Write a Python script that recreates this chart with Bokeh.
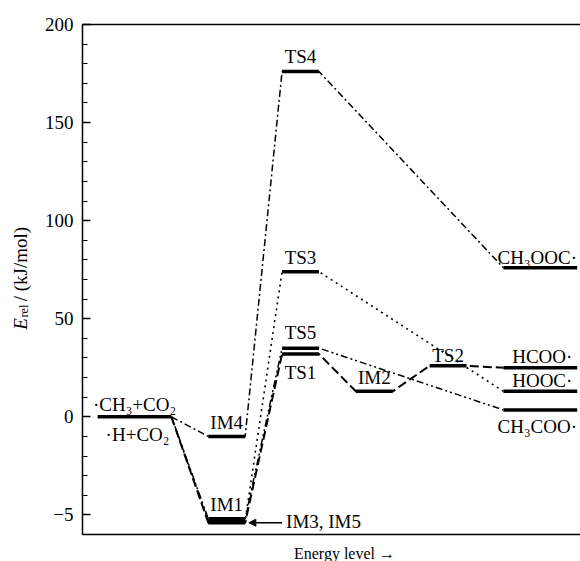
import math
from bokeh.plotting import figure
from bokeh.layouts import row, column
from bokeh.models import (ColumnDataSource, Range1d, LinearAxis, FixedTicker,
                          CustomJSTickFormatter, CustomJSTransform, Arrow, NormalHead)
from bokeh.transform import transform
from bokeh.core.properties import value
from bokeh.embed import file_html
from bokeh.resources import INLINE

# ---------------- data ----------------
species = ["R", "IM4", "IM1", "IM3", "IM5", "TS1", "TS5", "TS3", "TS4",
           "IM2", "TS2", "HCOO", "HOOC", "CH3COO", "CH3OOC"]
stage = [0, 1, 1, 1, 1, 2, 2, 2, 2, 3, 4, 5, 5, 5, 5]
energy = [0.0, -1.0, -5.4, -5.3, -5.2, 32.0, 35.0, 74.0, 176.0,
          13.0, 26.0, 25.0, 13.0, 3.5, 76.0]

path_im4 = ["R", "IM4", "TS4", "CH3OOC"]
path_im1 = ["R", "IM1", "TS1", "IM2", "TS2", "HCOO"]
path_im3 = ["R", "IM3", "TS3", "HOOC"]
path_im5 = ["R", "IM5", "TS5", "CH3COO"]

label_text = ["·CH₃+CO₂", "·H+CO₂", "IM4", "IM1", "TS4", "TS3", "TS5", "TS1",
              "IM2", "TS2", "CH₃OOC·", "HCOO·", "HOOC·", "CH₃COO·"]
label_of = ["R", "R", "IM4", "IM1", "TS4", "TS3", "TS5", "TS1",
            "IM2", "TS2", "CH3OOC", "HCOO", "HOOC", "CH3COO"]

y_ticks = [-5, 0, 50, 100, 150, 200]
callout_text = "IM3, IM5"
x_title = "Energy level →"

# ---------------- layout / style ----------------
stage_left = [0, 3, 5, 7, 9, 11]
stage_right = [2, 4, 6, 8, 10, 13]
label_dy = [-6, 24, -8, -12, -9, -8, -10, 24, -8, -4, -4, -5, -5, 23]  # px from level
label_dx = [0, 3, 0, 0, 0, 0, 0, 0, 0, 0, -3, 2, 2, -3]
BASE_FIX = -6
FONT = "Liberation Serif"
FS = "19px"
STYLE = "normal"


def axis_pos(e):
    # broken axis: 50 kJ/mol per unit above 0, 5 kJ/mol per unit below 0
    return e / 50.0 if e >= 0 else e / 5.0


piecewise = CustomJSTransform(v_func="""
const out = new Float64Array(xs.length);
for (let i = 0; i < xs.length; i++) {
  const e = xs[i];
  out[i] = e >= 0 ? e / 50.0 : e / 5.0;
}
return out;
""")

idx = {s: i for i, s in enumerate(species)}
left = [stage_left[s] for s in stage]
right = [stage_right[s] for s in stage]

p = figure(width=545, height=538, output_backend="svg", toolbar_location=None,
           x_range=Range1d(-0.41, 13.09), y_range=Range1d(-1.2, 4.0),
           min_border_left=47, min_border_top=24, min_border_right=0, min_border_bottom=4)
p.outline_line_color = None
p.xgrid.visible = False
p.ygrid.visible = False

# y axis
ya = p.yaxis[0]
ya.ticker = FixedTicker(ticks=[axis_pos(v) for v in y_ticks],
                        minor_ticks=[i * 0.2 for i in range(-5, 21)])
ya.formatter = CustomJSTickFormatter(code="""
const v = Math.round(tick < 0 ? tick * 5 : tick * 50);
return v < 0 ? "\u2212" + Math.abs(v) : String(v);
""")
ya.major_tick_in = 8
ya.major_tick_out = 0
ya.minor_tick_in = 5
ya.minor_tick_out = 0
ya.major_label_standoff = 9
ya.major_label_text_font = FONT
ya.major_label_text_font_size = FS
ya.major_label_text_font_style = STYLE
ya.major_label_text_color = "black"
ya.axis_line_width = 1.5
ya.major_tick_line_width = 1.5
ya.minor_tick_line_width = 1.2

# bottom axis (line only)
xa = p.xaxis[0]
xa.ticker = FixedTicker(ticks=[])
xa.major_tick_in = 0
xa.major_tick_out = 0
xa.minor_tick_in = 0
xa.minor_tick_out = 0
xa.major_label_standoff = 0
xa.axis_line_width = 1.5
xa.major_label_text_font_size = "0px"

# top axis (line only)
ta = LinearAxis(ticker=FixedTicker(ticks=[]), major_tick_in=0, major_tick_out=0,
                minor_tick_in=0, minor_tick_out=0, axis_line_width=1.5,
                major_label_standoff=0, major_label_text_font_size="0px")
p.add_layout(ta, "above")


# connectors
def path_xy(path):
    xs, es = [], []
    for k, name in enumerate(path):
        i = idx[name]
        if k > 0:
            xs.append(left[i]); es.append(energy[i])
        if k < len(path) - 1:
            xs.append(right[i]); es.append(energy[i])
    return ColumnDataSource(dict(x=xs, e=es))


p.line(x="x", y=transform("e", piecewise), source=path_xy(path_im3),
       line_color="black", line_width=1.6, line_dash="2 4")
p.line(x="x", y=transform("e", piecewise), source=path_xy(path_im5),
       line_color="black", line_width=1.5, line_dash="7 3 2 3 2 3")
p.line(x="x", y=transform("e", piecewise), source=path_xy(path_im4),
       line_color="black", line_width=1.5, line_dash="7 3 2 3")
p.line(x="x", y=transform("e", piecewise), source=path_xy(path_im1),
       line_color="black", line_width=2.0, line_dash="9 4")

# levels
lv = ColumnDataSource(dict(x0=left, x1=right, e=energy))
p.segment(x0="x0", y0=transform("e", piecewise), x1="x1", y1=transform("e", piecewise),
          source=lv, line_color="black", line_width=3.5)

# labels
lx = [(left[idx[o]] + right[idx[o]]) / 2.0 for o in label_of]
le = [energy[idx[o]] for o in label_of]
loff = [d + BASE_FIX for d in label_dy]
ls = ColumnDataSource(dict(x=lx, e=le, t=label_text, off=loff, dx=label_dx))
p.text(x="x", y=transform("e", piecewise), text="t", x_offset="dx", y_offset="off", source=ls,
       text_font=value(FONT), text_font_size=value(FS), text_font_style=STYLE,
       text_align="center", text_baseline="alphabetic", text_color="black")

# callout arrow for IM3, IM5
ay = axis_pos(energy[idx["IM1"]])
p.add_layout(Arrow(end=NormalHead(size=7, fill_color="black", line_color="black"),
                   x_start=stage_left[2], y_start=ay, x_end=stage_right[1] + 0.1, y_end=ay,
                   line_color="black", line_width=1.5))
cs = ColumnDataSource(dict(x=[stage_left[2]], e=[energy[idx["IM1"]]], t=[callout_text]))
p.text(x="x", y=transform("e", piecewise), text="t", x_offset=4, y_offset=5 + BASE_FIX,
       source=cs, text_font=value(FONT), text_font_size=value(FS), text_font_style=STYLE,
       text_align="left", text_baseline="alphabetic", text_color="black")

# ---- y title panel ----
yl = figure(width=35, height=538, output_backend="svg", toolbar_location=None,
            x_range=Range1d(0, 35), y_range=Range1d(538, 0),
            x_axis_location=None, y_axis_location=None,
            min_border=0, min_border_left=0, min_border_right=0,
            min_border_top=0, min_border_bottom=0)
yl.outline_line_color = None
yl.grid.visible = False
yl.text(x=[26 + BASE_FIX], y=[322], text=["E"], angle=math.pi / 2,
        text_font=value(FONT), text_font_size=value("19px"), text_font_style="italic",
        text_align="left", text_baseline="alphabetic", text_color="black")
yl.text(x=[29 + BASE_FIX], y=[309], text=["rel"], angle=math.pi / 2,
        text_font=value(FONT), text_font_size=value("12px"),
        text_align="left", text_baseline="alphabetic", text_color="black")
yl.text(x=[26 + BASE_FIX], y=[292], text=["/ (kJ/mol)"], angle=math.pi / 2,
        text_font=value(FONT), text_font_size=value("19px"),
        text_align="left", text_baseline="alphabetic", text_color="black")

# ---- x title panel ----
xl = figure(width=580, height=23, output_backend="svg", toolbar_location=None,
            x_range=Range1d(0, 580), y_range=Range1d(23, 0),
            x_axis_location=None, y_axis_location=None,
            min_border=0, min_border_left=0, min_border_right=0,
            min_border_top=0, min_border_bottom=0)
xl.outline_line_color = None
xl.grid.visible = False
xl.text(x=[344], y=[21 + BASE_FIX], text=[x_title],
        text_font=value(FONT), text_font_size=value("16px"),
        text_align="center", text_baseline="alphabetic", text_color="black")

layout = column(row(yl, p, spacing=0), xl, spacing=0)
open("out.html", "w").write(file_html(layout, INLINE))
